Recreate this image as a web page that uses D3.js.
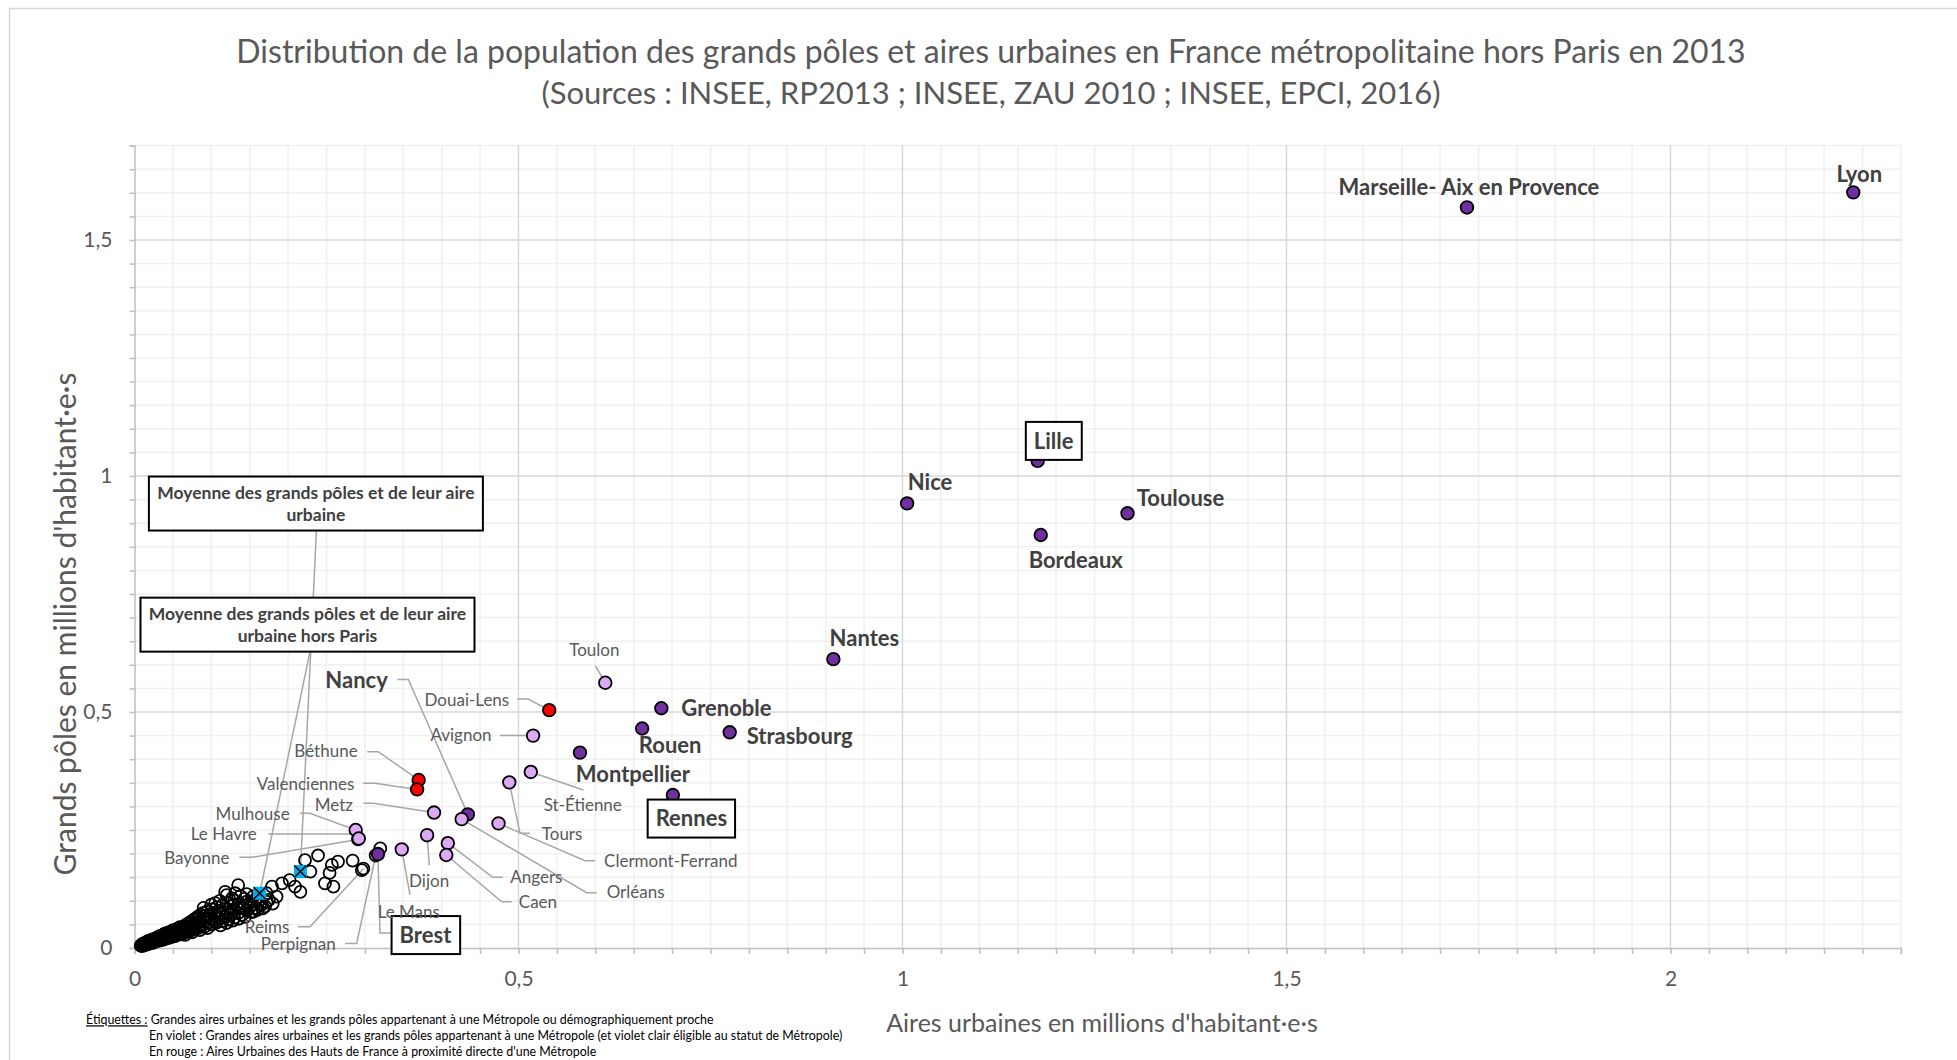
<!DOCTYPE html>
<html>
<head>
<meta charset="utf-8">
<script src="https://d3js.org/d3.v7.min.js"></script>
<style>
  body { margin: 0; background: #fff; }
  text { font-family: Lato, "Open Sans", sans-serif; }
</style>
</head>
<body>
<div id="chart"></div>
<script>
// Métropoles (violet)
const metroNoms = ["Lyon", "Marseille- Aix en Provence", "Lille", "Nice", "Toulouse", "Bordeaux", "Nantes",
  "Grenoble", "Rouen", "Strasbourg", "Montpellier", "Rennes", "Nancy", "Brest"]
const metroAires = [2.238, 1.735, 1.176, 1.006, 1.293, 1.180, 0.910, 0.686, 0.661, 0.775, 0.580, 0.701, 0.434, 0.317]
const metroPoles = [1.601, 1.569, 1.032, 0.942, 0.921, 0.875, 0.612, 0.508, 0.465, 0.457, 0.414, 0.324, 0.283, 0.199]

// éligibles au statut de Métropole (violet clair)
const eligNoms = ["Toulon", "Avignon", "St-Étienne", "Tours", "Clermont-Ferrand", "Metz", "Orléans", "Dijon",
  "Angers", "Caen", "Le Mans", "Mulhouse", "Le Havre"]
const eligAires = [0.613, 0.519, 0.516, 0.488, 0.474, 0.390, 0.426, 0.381, 0.408, 0.406, 0.348, 0.288, 0.292]
const eligPoles = [0.562, 0.450, 0.373, 0.351, 0.264, 0.287, 0.273, 0.239, 0.222, 0.197, 0.209, 0.250, 0.232]

// Hauts de France (rouge)
const rougeNoms = ["Douai-Lens", "Béthune", "Valenciennes"]
const rougeAires = [0.540, 0.370, 0.368]
const rougePoles = [0.504, 0.356, 0.336]

// moyennes
const moyNoms = ["Moyenne des grands pôles et de leur aire urbaine", "Moyenne des grands pôles et de leur aire urbaine hors Paris"]
const moyAires = [0.216, 0.163]
const moyPoles = [0.162, 0.116]

// autres grandes aires nommées
const autresNoms = ["Bayonne", "Reims", "Perpignan"]
const autresAires = [0.291, 0.298, 0.314]
const autresPoles = [0.230, 0.168, 0.196]

// autres grandes aires urbaines [aire, pôle]
const airesAutres = [
  [0.008,0.005],[0.010,0.004],[0.010,0.008],[0.012,0.007],[0.012,0.010],[0.014,0.006],[0.014,0.011],[0.016,0.009],
  [0.016,0.013],[0.018,0.008],[0.018,0.012],[0.018,0.015],[0.020,0.010],[0.020,0.014],[0.022,0.012],[0.022,0.017],
  [0.024,0.011],[0.024,0.015],[0.024,0.019],[0.026,0.013],[0.026,0.018],[0.028,0.014],[0.028,0.016],[0.028,0.020],
  [0.030,0.015],[0.030,0.019],[0.030,0.023],[0.032,0.017],[0.032,0.022],[0.034,0.016],[0.034,0.021],[0.034,0.026],
  [0.036,0.019],[0.036,0.024],[0.038,0.018],[0.038,0.023],[0.038,0.029],[0.040,0.020],[0.040,0.026],[0.040,0.031],
  [0.042,0.022],[0.042,0.028],[0.044,0.021],[0.044,0.027],[0.044,0.033],[0.046,0.025],[0.046,0.030],[0.048,0.023],
  [0.048,0.029],[0.048,0.035],[0.050,0.026],[0.050,0.032],[0.050,0.038],[0.053,0.025],[0.053,0.030],[0.053,0.036],
  [0.056,0.028],[0.056,0.034],[0.056,0.041],[0.059,0.030],[0.059,0.037],[0.059,0.044],[0.062,0.029],[0.062,0.035],
  [0.062,0.042],[0.065,0.033],[0.065,0.040],[0.065,0.047],[0.068,0.036],[0.068,0.043],[0.068,0.050],[0.071,0.034],
  [0.071,0.041],[0.071,0.053],[0.074,0.038],[0.074,0.046],[0.074,0.056],[0.077,0.040],[0.077,0.049],[0.077,0.060],
  [0.080,0.044],[0.080,0.052],[0.080,0.063],[0.083,0.042],[0.083,0.055],[0.083,0.067],[0.086,0.047],[0.086,0.058],
  [0.086,0.070],[0.089,0.050],[0.089,0.061],[0.089,0.074],[0.092,0.046],[0.092,0.057],[0.092,0.068],[0.095,0.053],
  [0.095,0.064],[0.095,0.078],[0.098,0.055],[0.098,0.071],[0.101,0.050],[0.101,0.062],[0.101,0.082],[0.104,0.058],
  [0.104,0.075],[0.107,0.054],[0.107,0.068],[0.107,0.086],[0.110,0.062],[0.110,0.079],[0.114,0.057],[0.114,0.072],
  [0.114,0.090],[0.118,0.066],[0.118,0.083],[0.122,0.060],[0.122,0.076],[0.122,0.095],[0.126,0.070],[0.126,0.088],
  [0.130,0.064],[0.130,0.081],[0.130,0.101],[0.135,0.074],[0.135,0.093],[0.140,0.070],[0.140,0.086],[0.146,0.080],
  [0.146,0.098],[0.152,0.076],[0.152,0.091],[0.158,0.085],[0.158,0.104],[0.164,0.094],[0.170,0.088],
  [0.111,0.100],[0.120,0.112],[0.127,0.105],[0.138,0.110],[0.146,0.114],[0.100,0.092],[0.090,0.085],[0.105,0.095],
  [0.143,0.104],[0.155,0.110],[0.162,0.100],[0.150,0.086],[0.160,0.081],[0.166,0.092],[0.175,0.102],[0.180,0.094],
  [0.112,0.048],[0.120,0.053],[0.128,0.058],[0.136,0.062],[0.144,0.066],[0.095,0.042],[0.085,0.038],[0.075,0.033],
  [0.066,0.028],
  [0.118,0.119],[0.135,0.133],[0.131,0.116],[0.142,0.084],[0.150,0.095],[0.155,0.077],[0.167,0.084],[0.172,0.098],
  [0.172,0.116],[0.179,0.130],[0.185,0.109],[0.192,0.137],[0.202,0.144],[0.209,0.130],[0.216,0.119],[0.222,0.186],
  [0.229,0.162],[0.239,0.196],[0.248,0.137],[0.254,0.159],[0.257,0.176],[0.259,0.130],[0.265,0.183],[0.284,0.185],
  [0.296,0.165],[0.320,0.211]
]

const yTicks = [0, 0.5, 1, 1.5]
const xTicks = [0, 0.5, 1, 1.5, 2]

const titre = ["Distribution de la population des grands pôles et aires urbaines en France métropolitaine hors Paris en 2013",
  "(Sources : INSEE, RP2013 ; INSEE, ZAU 2010 ; INSEE, EPCI, 2016)"]

// placement des étiquettes (décalages en px par rapport au point)
const etiquettes = {
  "Lyon": { dx: 6, dy: -18, a: "middle", gras: true },
  "Marseille- Aix en Provence": { dx: 2, dy: -20, a: "middle", gras: true },
  "Lille": { dx: 16, dy: -20, a: "middle", gras: true, cadre: true },
  "Nice": { dx: 23, dy: -21, a: "middle", gras: true },
  "Toulouse": { dx: 53, dy: -15, a: "middle", gras: true },
  "Bordeaux": { dx: 35, dy: 25, a: "middle", gras: true },
  "Nantes": { dx: 31, dy: -21, a: "middle", gras: true },
  "Grenoble": { dx: 20, dy: 0, a: "start", gras: true },
  "Rouen": { dx: 28, dy: 16.5, a: "middle", gras: true },
  "Strasbourg": { dx: 17, dy: 4, a: "start", gras: true },
  "Montpellier": { dx: 53, dy: 21.5, a: "middle", gras: true },
  "Rennes": { dx: 18.5, dy: 23.5, a: "middle", gras: true, cadre: true },
  "Nancy": { dx: -80, dy: -134, a: "end", gras: true, trait: [[-70.5, -135], [-59.5, -135]] },
  "Brest": { dx: 47.5, dy: 81, a: "middle", gras: true, cadre: true, trait: [[14, 79], [2, 79]] },
  "Toulon": { dx: -11, dy: -33, a: "middle", trait: [[-10, -17]] },
  "Avignon": { dx: -41.5, dy: -0.5, a: "end", trait: [[-33, 0], [-7, 0]] },
  "St-Étienne": { dx: 52, dy: 33, a: "middle", trait: [[52.5, 18]] },
  "Tours": { dx: 32.5, dy: 51.5, a: "start", trait: [[20.7, 51], [10.7, 51]] },
  "Clermont-Ferrand": { dx: 105.5, dy: 37.5, a: "start", trait: [[96.5, 37.3], [86.5, 37.3]] },
  "Metz": { dx: -81, dy: -7.5, a: "end", trait: [[-70.7, -9.2], [-60.7, -9.2]] },
  "Orléans": { dx: 145, dy: 73, a: "start", trait: [[135, 73.6], [125, 73.6]] },
  "Dijon": { dx: 2, dy: 46, a: "middle", trait: [[2.2, 30]] },
  "Angers": { dx: 62.5, dy: 34, a: "start", trait: [[54.9, 34.1], [44.9, 34.1]] },
  "Caen": { dx: 72.5, dy: 47, a: "start", trait: [[65.4, 46.7], [55.4, 46.7]] },
  "Le Mans": { dx: 7, dy: 63, a: "middle", trait: [[8.2, 45.6]] },
  "Mulhouse": { dx: -66, dy: -16.3, a: "end", trait: [[-55.7, -16.7], [-45.7, -16.7]] },
  "Le Havre": { dx: -102, dy: -4.8, a: "end", trait: [[-90.5, -4.5], [-2, -4.5]] },
  "Douai-Lens": { dx: -40, dy: -10, a: "end", trait: [[-32, -11], [-21, -11]] },
  "Béthune": { dx: -61, dy: -29, a: "end", trait: [[-51.4, -28.3], [-40.4, -28.3]] },
  "Valenciennes": { dx: -62.7, dy: -5.7, a: "end", trait: [[-53.8, -6.1], [-42.1, -6.1]] },
  "Bayonne": { dx: -128.5, dy: 19, a: "end", trait: [[-118.7, 17.9], [-106.3, 17.9]] },
  "Reims": { dx: -74, dy: 58, a: "end", trait: [[-65.4, 58], [-53.4, 58]] },
  "Perpignan": { dx: -40, dy: 89, a: "end", trait: [[-30.7, 88], [-19, 88]] }
}

const width = 1957
const height = 1060
const x0 = 134.5, y0 = 948

const x = d3.scaleLinear().domain([0, 2.3]).range([x0, x0 + 2.3 * 768])
const y = d3.scaleLinear().domain([0, 1.7]).range([y0, y0 - 1.7 * 472])

const svg = d3.select("#chart").append("svg")
  .attr("width", width).attr("height", height)

svg.append("rect").attr("width", width).attr("height", height).attr("fill", "#fff")
svg.append("rect").attr("x", 9.5).attr("y", 8.5).attr("width", width).attr("height", height)
  .attr("fill", "none").attr("stroke", "#d9d9d9").attr("stroke-width", 1.5)

// titre
svg.selectAll(".titre").data(titre).enter().append("text")
  .attr("class", "titre")
  .attr("x", 991).attr("y", (d, i) => 52 + i * 41).attr("dy", "0.35em")
  .attr("text-anchor", "middle").attr("font-size", (d, i) => i ? 31 : 32).attr("fill", "#595959")
  .text(d => d)

// grille
const pas = 0.05
const xMinor = d3.range(0, 47).map(i => +(i * pas).toFixed(2))
const yMinor = d3.range(0, 35).map(i => +(i * pas).toFixed(2))
const estMajeur = v => Math.round(v * 100) % 50 === 0

const grille = svg.append("g")
grille.selectAll(".gx").data(xMinor.filter(v => !estMajeur(v))).enter().append("line")
  .attr("x1", d => x(d)).attr("x2", d => x(d)).attr("y1", y(0)).attr("y2", y(1.7))
  .attr("stroke", "#f0f0f0").attr("stroke-width", 1.5)
grille.selectAll(".gy").data(yMinor.filter(v => !estMajeur(v))).enter().append("line")
  .attr("y1", d => y(d)).attr("y2", d => y(d)).attr("x1", x(0)).attr("x2", x(2.3))
  .attr("stroke", "#f0f0f0").attr("stroke-width", 1.5)
grille.selectAll(".Gx").data(xTicks.slice(1)).enter().append("line")
  .attr("x1", d => x(d)).attr("x2", d => x(d)).attr("y1", y(0)).attr("y2", y(1.7))
  .attr("stroke", "#d9d9d9").attr("stroke-width", 1.5)
grille.selectAll(".Gy").data(yTicks.slice(1)).enter().append("line")
  .attr("y1", d => y(d)).attr("y2", d => y(d)).attr("x1", x(0)).attr("x2", x(2.3))
  .attr("stroke", "#d9d9d9").attr("stroke-width", 1.5)

// axes
const fmt = d => estMajeur(d) ? String(d).replace(".", ",") : ""
const xAxis = d3.axisBottom(x).tickValues(xMinor).tickSize(6).tickPadding(17).tickFormat(fmt)
const yAxis = d3.axisLeft(y).tickValues(yMinor).tickSize(5).tickPadding(17).tickFormat(fmt)

const gx = svg.append("g").attr("transform", "translate(0," + y0 + ")").call(xAxis)
const gy = svg.append("g").attr("transform", "translate(" + x0 + ",0)").call(yAxis)
for (const g of [gx, gy]) {
  g.select(".domain").attr("stroke", "#bfbfbf").attr("stroke-width", 1.5)
  g.selectAll(".tick line").attr("stroke", "#bfbfbf").attr("stroke-width", 1.5)
  g.selectAll(".tick text").attr("font-size", 21).attr("fill", "#595959")
    .style("font-family", "Lato, sans-serif")
}

// titres des axes
svg.append("text").attr("x", 1102).attr("y", 1023).attr("dy", "0.35em")
  .attr("text-anchor", "middle").attr("font-size", 25).attr("fill", "#595959")
  .text("Aires urbaines en millions d'habitant·e·s")
svg.append("text").attr("transform", "translate(65,624) rotate(-90)").attr("dy", "0.35em")
  .attr("text-anchor", "middle").attr("font-size", 30).attr("fill", "#595959")
  .text("Grands pôles en millions d'habitant·e·s")

// points nommés
const nommes = []
metroNoms.forEach((n, i) => nommes.push({ nom: n, x: metroAires[i], y: metroPoles[i], fill: "#7030a0" }))
eligNoms.forEach((n, i) => nommes.push({ nom: n, x: eligAires[i], y: eligPoles[i], fill: "#dba9f5" }))
rougeNoms.forEach((n, i) => nommes.push({ nom: n, x: rougeAires[i], y: rougePoles[i], fill: "#ff0000" }))
autresNoms.forEach((n, i) => nommes.push({ nom: n, x: autresAires[i], y: autresPoles[i], fill: "none" }))

// traits de rappel
const traits = svg.append("g")
nommes.forEach(d => {
  const e = etiquettes[d.nom]
  if (!e || !e.trait) return
  const px = x(d.x), py = y(d.y)
  const pts = e.trait.map(p => [px + p[0], py + p[1]]).concat([[px, py]])
  traits.append("path").attr("d", d3.line()(pts))
    .attr("fill", "none").attr("stroke", "#a6a6a6").attr("stroke-width", 1.5)
})
// traits des moyennes
const moyCadres = [{ dx: 15.5, dy: -368, trait: [16, -341] }, { dx: 47.8, dy: -268.6, trait: [50.3, -241.6] }]
moyNoms.forEach((n, i) => {
  const px = x(moyAires[i]), py = y(moyPoles[i])
  const c = moyCadres[i]
  traits.append("line").attr("x1", px + c.trait[0]).attr("y1", py + c.trait[1])
    .attr("x2", px).attr("y2", py).attr("stroke", "#a6a6a6").attr("stroke-width", 1.5)
})

// autres grandes aires
svg.append("g").selectAll("circle").data(airesAutres.concat(autresAires.map((v, i) => [v, autresPoles[i]])))
  .enter().append("circle")
  .attr("cx", d => x(d[0])).attr("cy", d => y(d[1])).attr("r", 6)
  .attr("fill", "none").attr("stroke", "#000").attr("stroke-width", 1.8)

svg.append("g").selectAll("circle").data(nommes.filter(d => d.fill !== "none")).enter().append("circle")
  .attr("cx", d => x(d.x)).attr("cy", d => y(d.y)).attr("r", 6.3)
  .attr("fill", d => d.fill).attr("stroke", "#000").attr("stroke-width", 1.8)

// marqueurs des moyennes
const mq = svg.append("g").selectAll("g").data(moyAires.map((v, i) => [v, moyPoles[i]])).enter().append("g")
  .attr("transform", d => "translate(" + x(d[0]) + "," + y(d[1]) + ")")
mq.append("rect").attr("x", -6.5).attr("y", -6.5).attr("width", 13).attr("height", 13).attr("fill", "#00b0f0")
mq.append("path").attr("d", "M-6,-6L6,6M-6,6L6,-6").attr("stroke", "#000").attr("stroke-width", 1.6)

// étiquettes
const lab = svg.append("g")
const cadres = []
nommes.forEach(d => {
  const e = etiquettes[d.nom]
  if (!e) return
  const t = lab.append("text")
    .attr("x", x(d.x) + e.dx).attr("y", y(d.y) + e.dy).attr("dy", "0.35em")
    .attr("text-anchor", e.a)
    .attr("font-size", e.gras ? 22 : 17)
    .attr("font-weight", e.gras ? "bold" : "normal")
    .attr("fill", e.gras ? "#404040" : "#595959")
    .text(d.nom)
  if (e.cadre) cadres.push({ t: t, cy: y(d.y) + e.dy })
})
cadres.forEach(c => {
  const b = c.t.node().getBBox()
  lab.insert("rect", () => c.t.node())
    .attr("x", b.x - 8).attr("y", c.cy - 19).attr("width", b.width + 16).attr("height", 38)
    .attr("fill", "#fff").attr("stroke", "#000").attr("stroke-width", 2)
})

// cadres des moyennes
const lignesMoy = [["Moyenne des grands pôles et de leur aire", "urbaine"],
  ["Moyenne des grands pôles et de leur aire", "urbaine hors Paris"]]
moyNoms.forEach((n, i) => {
  const cx = x(moyAires[i]) + moyCadres[i].dx, cy = y(moyPoles[i]) + moyCadres[i].dy
  const g = svg.append("g")
  g.append("rect").attr("x", cx - 167).attr("y", cy - 27).attr("width", 334).attr("height", 54)
    .attr("fill", "#fff").attr("stroke", "#000").attr("stroke-width", 2)
  g.selectAll("text").data(lignesMoy[i]).enter().append("text")
    .attr("x", cx).attr("y", (d, j) => cy - 11 + j * 22).attr("dy", "0.35em")
    .attr("text-anchor", "middle").attr("font-size", 17.5).attr("font-weight", "bold").attr("fill", "#404040")
    .text(d => d)
})

// note
const note = svg.append("g").attr("font-size", 12.4).attr("fill", "#000")
const l1 = note.append("text").attr("x", 86).attr("y", 1020).attr("dy", "0.35em")
l1.append("tspan").style("text-decoration", "underline").text("Étiquettes :")
l1.append("tspan").text(" Grandes aires urbaines et les grands pôles appartenant à une Métropole ou démographiquement proche")
note.append("text").attr("x", 149).attr("y", 1036).attr("dy", "0.35em")
  .text("En violet : Grandes aires urbaines et les grands pôles appartenant à une Métropole (et violet clair éligible au statut de Métropole)")
note.append("text").attr("x", 149).attr("y", 1052).attr("dy", "0.35em")
  .text("En rouge : Aires Urbaines des Hauts de France à proximité directe d'une Métropole")
</script>
</body>
</html>
